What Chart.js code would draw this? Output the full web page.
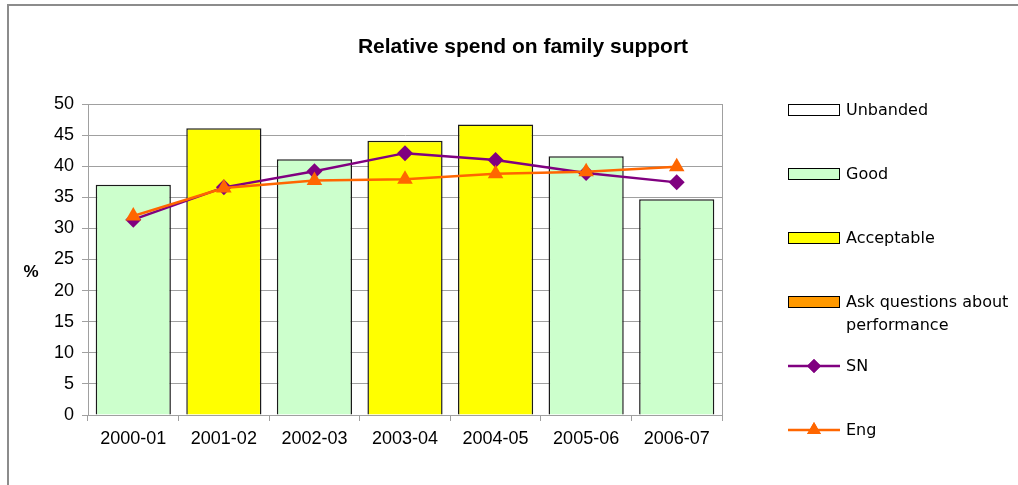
<!DOCTYPE html>
<html lang="en">
<head>
    <meta charset="UTF-8">
    <title>Relative spend on family support</title>
    <script src="https://cdn.jsdelivr.net/npm/chart.js"></script>
    <style>
        body {
            margin: 0;
            width: 1018px;
            height: 485px;
            overflow: hidden;
            background: #fff;
            font-family: "DejaVu Sans", sans-serif;
        }
        #frame {
            position: absolute;
            left: 7px;
            top: 4px;
            width: 1100px;
            height: 600px;
            border-left: 2px solid #8c8c8c;
            border-top: 2px solid #8c8c8c;
        }
        #chartBox {
            position: absolute;
            left: 0;
            top: 0;
            width: 1018px;
            height: 485px;
        }
        #title {
            position: absolute;
            left: 0;
            top: 34px;
            width: 1046px;
            text-align: center;
            font: bold 21px "Liberation Sans", Arial, sans-serif;
        }
        #legend .item {
            position: absolute;
            left: 788px;
            font-size: 16px;
            line-height: 23px;
            color: #000;
        }
        #legend .swatch {
            position: absolute;
            left: 0;
            width: 52px;
            height: 12px;
            box-sizing: border-box;
            border: 1px solid #000;
        }
        #legend .label {
            position: absolute;
            left: 58px;
            top: -12px;
            width: 170px;
        }
    </style>
</head>
<body>
    <div id="frame"></div>
    <div id="chartBox"><canvas id="spendChart"></canvas></div>
    <div id="title">Relative spend on family support</div>
    <div id="legend"></div>

    <script>
        const categories = ['2000-01', '2001-02', '2002-03', '2003-04', '2004-05', '2005-06', '2006-07'];
        const spend = [37.0, 46.1, 41.1, 44.1, 46.7, 41.6, 34.7];
        const bands = ['Good', 'Acceptable', 'Good', 'Acceptable', 'Acceptable', 'Good', 'Good'];
        const snValues = [31.4, 36.6, 39.2, 42.1, 41.0, 38.9, 37.4];
        const engValues = [32.0, 36.5, 37.7, 37.9, 38.8, 39.1, 39.9];
        const yTicks = [0, 5, 10, 15, 20, 25, 30, 35, 40, 45, 50];

        const bandNames = ['Unbanded', 'Good', 'Acceptable', 'Ask questions about performance'];
        const bandColours = ['#ffffff', '#ccffcc', '#ffff00', '#ff9900'];

        function bandData(name) {
            return spend.map((v, i) => bands[i] === name ? v : null);
        }

        const datasets = bandNames.map((name, i) => ({
            type: 'bar',
            label: name,
            data: bandData(name),
            backgroundColor: bandColours[i],
            borderColor: '#1a1a1a',
            borderWidth: 1.5,
            grouped: false,
            barPercentage: 0.83,
            categoryPercentage: 1,
            order: 3
        }));

        datasets.push({
            type: 'line',
            label: 'SN',
            data: snValues,
            borderColor: '#800080',
            backgroundColor: '#800080',
            borderWidth: 2.5,
            pointStyle: 'rectRot',
            pointRadius: 8,
            pointBorderWidth: 0,
            order: 1
        });
        datasets.push({
            type: 'line',
            label: 'Eng',
            data: engValues,
            borderColor: '#ff6600',
            backgroundColor: '#ff6600',
            borderWidth: 2.5,
            pointStyle: 'triangle',
            pointRadius: 9,
            pointBorderWidth: 0,
            order: 0
        });

        // plot frame and horizontal "%" label
        const framePlugin = {
            id: 'frame',
            beforeDatasetsDraw(chart) {
                const a = chart.chartArea;
                const ctx = chart.ctx;
                ctx.save();
                ctx.strokeStyle = '#a0a0a0';
                ctx.lineWidth = 1;
                ctx.strokeRect(a.left + 0.5, a.top + 0.5, a.right - a.left, a.bottom - a.top);
                ctx.restore();
            },
            afterDraw(chart) {
                const a = chart.chartArea;
                const ctx = chart.ctx;
                ctx.save();
                ctx.font = 'bold 17px "Liberation Sans", Arial, sans-serif';
                ctx.fillStyle = '#000';
                ctx.textAlign = 'center';
                ctx.textBaseline = 'middle';
                ctx.fillText('%', 31, (a.top + a.bottom) / 2 + 13);
                ctx.restore();
            }
        };

        const ctx = document.getElementById('spendChart').getContext('2d');
        const chart = new Chart(ctx, {
            type: 'bar',
            data: { labels: categories, datasets: datasets },
            options: {
                responsive: true,
                maintainAspectRatio: false,
                animation: false,
                layout: { padding: { left: 0, top: 104, right: 296, bottom: 0 } },
                plugins: {
                    legend: { display: false },
                    title: { display: false },
                    tooltip: { enabled: false }
                },
                scales: {
                    x: {
                        offset: true,
                        grid: {
                            offset: true,
                            drawOnChartArea: false,
                            tickLength: 6,
                            color: '#a0a0a0'
                        },
                        border: { color: '#a0a0a0' },
                        ticks: {
                            color: '#000',
                            padding: 7,
                            maxRotation: 0,
                            font: { family: '"Liberation Sans", Arial, sans-serif', size: 18 }
                        },
                        afterFit(scale) { scale.height = 70; }
                    },
                    y: {
                        min: 0,
                        max: 50,
                        afterBuildTicks(scale) { scale.ticks = yTicks.map(v => ({ value: v })); },
                        grid: {
                            color: '#a0a0a0',
                            tickLength: 6
                        },
                        border: { color: '#a0a0a0' },
                        ticks: {
                            color: '#000',
                            padding: 8,
                            font: { family: '"Liberation Sans", Arial, sans-serif', size: 18 }
                        },
                        afterFit(scale) { scale.width = 88; }
                    }
                }
            },
            plugins: [framePlugin]
        });

        // legend built from the datasets
        const legendTops = [110, 174, 238, 302, 366, 430];
        const legend = document.getElementById('legend');
        chart.data.datasets.forEach((ds, i) => {
            const item = document.createElement('div');
            item.className = 'item';
            item.style.top = legendTops[i] + 'px';
            let swatch;
            if (ds.type === 'line') {
                const c = document.createElement('canvas');
                c.width = 52;
                c.height = 22;
                c.style.position = 'absolute';
                c.style.left = '0px';
                c.style.top = '-11px';
                const g = c.getContext('2d');
                g.strokeStyle = ds.borderColor;
                g.lineWidth = ds.borderWidth;
                g.beginPath();
                g.moveTo(0, 11);
                g.lineTo(52, 11);
                g.stroke();
                g.fillStyle = ds.backgroundColor;
                Chart.helpers.drawPoint(g, { pointStyle: ds.pointStyle, radius: ds.pointRadius - 1, borderWidth: 0 }, 26, 11);
                g.fill();
                swatch = c;
            } else {
                swatch = document.createElement('div');
                swatch.className = 'swatch';
                swatch.style.top = '-6px';
                swatch.style.background = ds.backgroundColor;
            }
            const label = document.createElement('div');
            label.className = 'label';
            label.textContent = ds.label;
            item.appendChild(swatch);
            item.appendChild(label);
            legend.appendChild(item);
        });
    </script>
</body>
</html>
